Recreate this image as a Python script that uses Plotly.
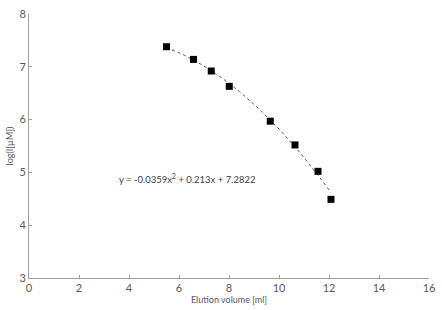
import numpy as np
import plotly.graph_objects as go

elution_volume = [5.5, 6.58, 7.29, 8.01, 9.65, 10.64, 11.56, 12.08]
log_values = [7.38, 7.14, 6.92, 6.63, 5.97, 5.52, 5.02, 4.49]
coef_a, coef_b, coef_c = -0.0359, 0.213, 7.2822
x_ticks = [0, 2, 4, 6, 8, 10, 12, 14, 16]
y_ticks = [3, 4, 5, 6, 7, 8]

xf = np.linspace(min(elution_volume), max(elution_volume), 100)
yf = coef_a * xf**2 + coef_b * xf + coef_c

font = "Lato, Liberation Sans, sans-serif"
txt = "#595959"
axc = "#a0a0a0"

fig = go.Figure()
fig.add_trace(go.Scatter(x=xf, y=yf, mode="lines",
                         line=dict(color="#555555", width=1, dash="dot"),
                         hoverinfo="skip", showlegend=False))
fig.add_trace(go.Scatter(x=elution_volume, y=log_values, mode="markers",
                         marker=dict(symbol="square", size=7, color="black"),
                         showlegend=False))

fig.add_annotation(x=6.35, y=4.88, xref="x", yref="y",
                   text="y = -0.0359x<sup>2</sup> + 0.213x + 7.2822",
                   showarrow=False, font=dict(family=font, size=9.5, color="#404040"))

fig.update_layout(
    width=442, height=310,
    margin=dict(l=29, r=7, t=7, b=32),
    plot_bgcolor="white", paper_bgcolor="white",
    font=dict(family=font, size=11, color=txt),
)
fig.update_xaxes(range=[0, 16], tickvals=x_ticks, showgrid=False, zeroline=False,
                 showline=True, linecolor=axc, linewidth=1,
                 ticks="inside", ticklen=3, tickcolor=axc,
                 tickfont=dict(size=11, color=txt), ticklabeloverflow="allow",
                 title=dict(text="Elution volume [ml]", font=dict(size=9, color=txt), standoff=2))
fig.update_yaxes(range=[3, 8], tickvals=y_ticks, showgrid=False, zeroline=False,
                 showline=True, linecolor=axc, linewidth=1,
                 ticks="inside", ticklen=3, tickcolor=axc,
                 tickfont=dict(size=11, color=txt), ticklabeloverflow="allow",
                 title=dict(text="log(I[µM])", font=dict(size=9, color=txt), standoff=4))

fig.write_html("out.html")
